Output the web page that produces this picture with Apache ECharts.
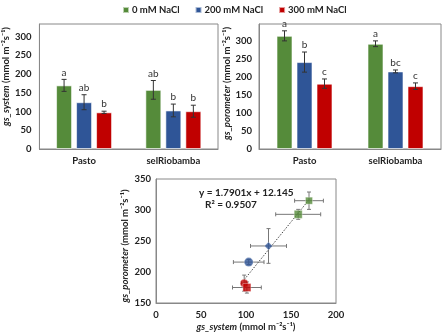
<!DOCTYPE html>
<html><head><meta charset="utf-8">
<script src="https://cdn.jsdelivr.net/npm/echarts@6/dist/echarts.min.js"></script>
<style>html,body{margin:0;padding:0;background:#fff}#c{width:443px;height:333px}</style>
</head><body><div id="c"></div>
<script>
const categories = ['Pasto', 'selRiobamba'];
const seriesNames = ['0 mM NaCl', '200 mM NaCl', '300 mM NaCl'];
// gs_system (top-left)
const sysMean = [[170, 158], [125, 103], [98, 101]];
const sysErr  = [[16, 25], [20, 17], [3, 16]];
const sysLetters = [['a', 'ab'], ['ab', 'b'], ['b', 'b']];
// gs_porometer (top-right)
const poroMean = [[315, 293], [242, 216], [182, 175]];
const poroErr  = [[14, 8], [28, 4], [13, 9]];
const poroLetters = [['a', 'a'], ['b', 'bc'], ['c', 'c']];
const sysTicks = [0, 300, 50];
const poroTicks = [0, 300, 50];
const scatXTicks = [0, 200, 50];
const scatYTicks = [150, 350, 50];
const trendLine = [[98, 187.6], [170, 316.5]];
const eqText = 'y = 1.7901x + 12.145';
const r2Text = 'R² = 0.9507';

const colors = ['#558B3A', '#2F5597', '#C00000'];
const FONT = 'Lato, "Liberation Sans", sans-serif';
const FS = 9.5;
const offsets = [-20, 0, 20];

const chart = echarts.init(document.getElementById('c'), null, {renderer: 'canvas'});

function yName(main, pad) {
  return {
    name: '{i|' + main + '}{b| (mmol m⁻²s⁻¹)}',
    nameTextStyle: { padding: pad, rich: {
      i: {fontStyle: 'italic', fontWeight: 'bold', fontSize: FS, fontFamily: FONT, color: '#222'},
      b: {fontWeight: 'bold', fontSize: FS, fontFamily: FONT, color: '#222'}
    }}
  };
}
const tickLabel = {fontSize: FS, fontWeight: 'bold', fontFamily: FONT, color: '#222'};

function errSeries(xi, yi, means, errs, letters, sIdx) {
  return {
    type: 'custom', xAxisIndex: xi, yAxisIndex: yi, z: 5,
    data: means[sIdx].map((v, i) => [i, v, errs[sIdx][i]]),
    renderItem: function (params, api) {
      const ci = api.value(0), v = api.value(1), e = api.value(2);
      const base = api.coord([ci, v]);
      const x = base[0] + offsets[sIdx];
      const hi = api.coord([ci, v + e])[1];
      const lo = api.coord([ci, v - e])[1];
      const st = {stroke: '#333', lineWidth: 1};
      return {type: 'group', children: [
        {type: 'line', shape: {x1: x, y1: hi, x2: x, y2: lo}, style: st},
        {type: 'line', shape: {x1: x - 2.5, y1: hi, x2: x + 2.5, y2: hi}, style: st},
        {type: 'line', shape: {x1: x - 2.5, y1: lo, x2: x + 2.5, y2: lo}, style: st},
        {type: 'text', style: {text: letters[sIdx][params.dataIndex], x: x, y: hi - 7,
          textAlign: 'center', textVerticalAlign: 'middle', fontSize: 10, fontFamily: FONT, fill: '#333'}}
      ]};
    }
  };
}

const series = [];
for (let s = 0; s < 3; s++) {
  series.push({type: 'bar', name: seriesNames[s], xAxisIndex: 0, yAxisIndex: 0, data: sysMean[s],
    barWidth: 16, barGap: '25%', itemStyle: {color: colors[s], borderColor: 'rgba(255,255,255,0.6)', borderWidth: 1}});
}
for (let s = 0; s < 3; s++) {
  series.push({type: 'bar', name: seriesNames[s], xAxisIndex: 1, yAxisIndex: 1, data: poroMean[s],
    barWidth: 16, barGap: '25%', itemStyle: {color: colors[s], borderColor: 'rgba(255,255,255,0.6)', borderWidth: 1}});
}
for (let s = 0; s < 3; s++) series.push(errSeries(0, 0, sysMean, sysErr, sysLetters, s));
for (let s = 0; s < 3; s++) series.push(errSeries(1, 1, poroMean, poroErr, poroLetters, s));

// scatter
const scatterSymbols = [['rect', 'rect'], ['diamond', 'circle'], ['circle', 'rect']];
const scatterSizes = [[7, 8], [8, 9], [8, 8]];
const scatData = [];
for (let s = 0; s < 3; s++) for (let i = 0; i < 2; i++) {
  scatData.push({x: sysMean[s][i], y: poroMean[s][i], ex: sysErr[s][i], ey: poroErr[s][i],
    color: colors[s], symbol: scatterSymbols[s][i], size: scatterSizes[s][i]});
}
series.push({
  type: 'custom', xAxisIndex: 2, yAxisIndex: 2, z: 3,
  data: scatData.map(d => [d.x, d.y, d.ex, d.ey]),
  renderItem: function (params, api) {
    const x = api.value(0), y = api.value(1), ex = api.value(2), ey = api.value(3);
    const c = api.coord([x, y]);
    const xl = api.coord([x - ex, y])[0], xr = api.coord([x + ex, y])[0];
    const yt = api.coord([x, y + ey])[1], yb = api.coord([x, y - ey])[1];
    const st = {stroke: '#777', lineWidth: 1};
    return {type: 'group', children: [
      {type: 'line', shape: {x1: xl, y1: c[1], x2: xr, y2: c[1]}, style: st},
      {type: 'line', shape: {x1: xl, y1: c[1] - 2, x2: xl, y2: c[1] + 2}, style: st},
      {type: 'line', shape: {x1: xr, y1: c[1] - 2, x2: xr, y2: c[1] + 2}, style: st},
      {type: 'line', shape: {x1: c[0], y1: yt, x2: c[0], y2: yb}, style: st},
      {type: 'line', shape: {x1: c[0] - 2, y1: yt, x2: c[0] + 2, y2: yt}, style: st},
      {type: 'line', shape: {x1: c[0] - 2, y1: yb, x2: c[0] + 2, y2: yb}, style: st}
    ]};
  }
});
series.push({
  type: 'line', xAxisIndex: 2, yAxisIndex: 2, data: trendLine, symbol: 'none', z: 4,
  lineStyle: {color: '#444', width: 1, type: [1.5, 1.5]}, silent: true
});
series.push({
  type: 'scatter', xAxisIndex: 2, yAxisIndex: 2, z: 6,
  data: scatData.map(d => ({value: [d.x, d.y], symbol: d.symbol, symbolSize: d.size,
    itemStyle: {color: d.color, borderColor: 'rgba(255,255,255,0.5)', borderWidth: 0.8}}))
});

const catAxis = (gi) => ({
  type: 'category', gridIndex: gi, data: categories,
  axisLine: {lineStyle: {color: '#888'}}, axisTick: {show: false},
  axisLabel: {fontSize: FS, fontWeight: 'bold', fontFamily: FONT, color: '#222', margin: 7}
});

const option = {
  animation: false,
  color: colors,
  textStyle: {fontFamily: FONT},
  legend: {
    top: 0, left: 117, itemWidth: 6, itemHeight: 6, itemGap: 15, icon: 'rect',
    data: seriesNames, textStyle: {fontSize: 9.5, fontWeight: 'bold', fontFamily: FONT, color: '#222', padding: [0, 0, 0, -2]}
  },
  grid: [
    {left: 36, top: 24, width: 182, height: 125, show: true, borderColor: '#888', borderWidth: 1},
    {left: 259, top: 24, width: 182, height: 125, show: true, borderColor: '#888', borderWidth: 1},
    {left: 156, top: 179, width: 180, height: 125, show: true, borderColor: '#888', borderWidth: 1}
  ],
  xAxis: [
    catAxis(0), catAxis(1),
    Object.assign({type: 'value', gridIndex: 2, min: scatXTicks[0], max: scatXTicks[1], interval: scatXTicks[2],
      splitLine: {show: false}, axisLine: {show: true, lineStyle: {color: '#888'}}, axisTick: {show: false},
      axisLabel: Object.assign({margin: 7}, tickLabel),
      nameLocation: 'middle', nameGap: 19}, yName('gs_system', 0))
  ],
  yAxis: [
    Object.assign({type: 'value', gridIndex: 0, min: sysTicks[0], max: 334, interval: sysTicks[2],
      splitLine: {show: false}, axisLine: {show: true, lineStyle: {color: '#888'}}, axisTick: {show: false},
      axisLabel: Object.assign({margin: 8, showMaxLabel: false}, tickLabel),
      nameLocation: 'middle', nameGap: 26}, yName('gs_system', [0, 0, 0, 20])),
    Object.assign({type: 'value', gridIndex: 1, min: poroTicks[0], max: 348, interval: poroTicks[2],
      splitLine: {show: false}, axisLine: {show: true, lineStyle: {color: '#888'}}, axisTick: {show: false},
      axisLabel: Object.assign({margin: 7, showMaxLabel: false}, tickLabel),
      nameLocation: 'middle', nameGap: 23}, yName('gs_porometer', [0, 0, 0, 6])),
    Object.assign({type: 'value', gridIndex: 2, min: scatYTicks[0], max: scatYTicks[1], interval: scatYTicks[2],
      splitLine: {show: false}, axisLine: {show: true, lineStyle: {color: '#888'}}, axisTick: {show: false},
      axisLabel: Object.assign({margin: 5}, tickLabel),
      nameLocation: 'middle', nameGap: 26}, yName('gs_porometer', [0, 10, 0, 0]))
  ],
  graphic: [
    {type: 'text', left: 199, top: 188, style: {text: eqText, fontSize: 10, fontWeight: 'bold', fontFamily: FONT, fill: '#222'}},
    {type: 'text', left: 205, top: 200, style: {text: r2Text, fontSize: 10, fontWeight: 'bold', fontFamily: FONT, fill: '#222'}}
  ],
  series: series
};
chart.setOption(option);
</script>
</body></html>
